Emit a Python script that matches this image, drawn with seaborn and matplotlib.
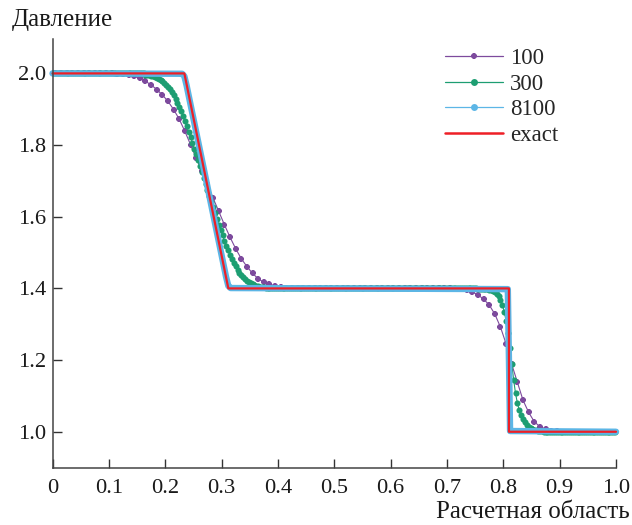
import numpy as np
import pandas as pd
import matplotlib
matplotlib.use("Agg")
import matplotlib.pyplot as plt
from matplotlib.lines import Line2D
import seaborn as sns

# ---------------------------------------------------------------------------
# Pressure profiles of the shock-tube problem on grids of 100, 300 and 8100
# cells, together with the exact solution.
# ---------------------------------------------------------------------------

# 100 cells
p100 = ([2.0] * 11
        + [1.9995, 1.9985, 1.996, 1.992, 1.986, 1.978, 1.968, 1.955, 1.940,
           1.922, 1.899, 1.872, 1.838, 1.801, 1.764, 1.727, 1.690, 1.652,
           1.615, 1.578, 1.543, 1.511, 1.483, 1.461, 1.442, 1.427, 1.417,
           1.411, 1.407, 1.404, 1.402, 1.401, 1.4005]
        + [1.4] * 27
        + [1.3995, 1.398, 1.395, 1.390, 1.382, 1.370, 1.354, 1.328, 1.292,
           1.245, 1.188, 1.138, 1.088, 1.054, 1.028, 1.014, 1.007, 1.003,
           1.001]
        + [1.0] * 10)

# 300 cells
p300 = ([2.0] * 49
        + [1.9967, 1.9960, 1.9950, 1.9938, 1.9923, 1.9905, 1.9883, 1.9857,
           1.9824, 1.9786, 1.9741, 1.9687, 1.9626, 1.9556, 1.9475, 1.9386,
           1.9288, 1.9177, 1.9061, 1.8937, 1.8802, 1.8665, 1.8521, 1.8368,
           1.8216, 1.8060, 1.7900, 1.7741, 1.7580, 1.7413, 1.7249, 1.7085,
           1.6915, 1.6751, 1.6587, 1.6420, 1.6259, 1.6098, 1.5936, 1.5781,
           1.5631, 1.5478, 1.5335, 1.5197, 1.5062, 1.4938, 1.4822, 1.4711,
           1.4614, 1.4524, 1.4443, 1.4373, 1.4312, 1.4257, 1.4213, 1.4175,
           1.4143, 1.4117, 1.4095, 1.4076, 1.4062, 1.4050, 1.4039, 1.4032,
           1.4025, 1.4020, 1.4015, 1.4010, 1.4008, 1.4006, 1.4004, 1.4002]
        + [1.4] * 104
        + [1.3998, 1.3996, 1.3994, 1.3991, 1.3987, 1.3982, 1.3975, 1.3965,
           1.3952, 1.3932, 1.3900, 1.3850, 1.3780, 1.3680, 1.3540, 1.3350,
           1.3090, 1.2750, 1.2330, 1.1880, 1.1450, 1.1070, 1.0800, 1.0600,
           1.0460, 1.0350, 1.0260, 1.0190, 1.0140, 1.0100, 1.0070, 1.0050,
           1.0035, 1.0024, 1.0016, 1.0010, 1.0006, 1.0003, 1.0001]
        + [1.0] * 36)

# 8100 cells (profile through its characteristic points)
x8100 = [0.0, 0.230, 0.234, 0.238, 0.308, 0.312, 0.316, 0.808, 0.810, 0.812, 1.0]
p8100 = [2.0, 1.999, 1.992, 1.966, 1.432, 1.407, 1.401, 1.398, 1.200, 1.002, 1.0]

# exact solution
x_exact = [0.0, 0.234, 0.312, 0.810, 0.810, 1.0]
p_exact = [2.0, 2.0, 1.4, 1.4, 1.0, 1.0]

labels = ["100", "300", "8100", "exact"]
colors = ["#7d4a9d", "#1d9e72", "#5cb6e6", "#ee1f26"]
xticks = [0, 0.1, 0.2, 0.3, 0.4, 0.5, 0.6, 0.7, 0.8, 0.9, 1.0]
xtick_labels = ["0", "0.1", "0.2", "0.3", "0.4", "0.5", "0.6", "0.7", "0.8", "0.9", "1.0"]
yticks = [1.0, 1.2, 1.4, 1.6, 1.8, 2.0]
ytick_labels = ["1.0", "1.2", "1.4", "1.6", "1.8", "2.0"]


def cell_centres(n):
    return (np.arange(n) + 0.5) / n


df100 = pd.DataFrame({"x": cell_centres(len(p100)), "p": p100})
df300 = pd.DataFrame({"x": cell_centres(len(p300)), "p": p300})
df8100 = pd.DataFrame({"x": x8100, "p": p8100})
dfex = pd.DataFrame({"x": x_exact, "p": p_exact})

sns.set_theme(style="white")
plt.rcParams["font.family"] = ["Liberation Serif", "DejaVu Serif"]

fig = plt.figure(figsize=(6.32, 5.25), dpi=100)
ax = fig.add_axes([0.0831, 0.1080, 0.8916, 0.8177])

common = dict(x="x", y="p", estimator=None, sort=False, legend=False,
              ax=ax, clip_on=False)
sns.lineplot(data=df100, color=colors[0], lw=0.8, marker="8", markersize=5.0,
             markeredgewidth=0, **common)
sns.lineplot(data=df300, color=colors[1], lw=0.8, marker="o", markersize=4.4,
             markeredgewidth=0, **common)
sns.lineplot(data=df8100, color=colors[2], lw=4.6, solid_capstyle="round",
             solid_joinstyle="round", **common)
sns.lineplot(data=dfex, color=colors[3], lw=1.6, **common)

ax.set_xlim(0, 1.0)
ax.set_ylim(0.898, 2.096)
ax.set_xticks(xticks)
ax.set_xticklabels(xtick_labels)
ax.set_yticks(yticks)
ax.set_yticklabels(ytick_labels)
ax.set_xlabel("")
ax.set_ylabel("")
ax.tick_params(axis="both", direction="in", length=6.5, width=1.0,
               bottom=True, left=True, color="#333333",
               labelcolor="#1a1a1a", labelsize=16.2)
ax.tick_params(axis="x", pad=7.5)
ax.tick_params(axis="y", pad=4.5)
for side in ("top", "right"):
    ax.spines[side].set_visible(False)
for side in ("left", "bottom"):
    ax.spines[side].set_color("#444444")
    ax.spines[side].set_linewidth(1.1)

fig.text(12 / 632, 1 - 20 / 525, "Давление", ha="left", va="center",
         fontsize=18, color="#1a1a1a")
fig.text(630 / 632, 1 - 512 / 525, "Расчетная область", ha="right",
         va="center", fontsize=18, color="#1a1a1a")

handles = [
    Line2D([], [], color=colors[0], lw=0.9, marker="8", markersize=5.0,
           markeredgewidth=0),
    Line2D([], [], color=colors[1], lw=0.9, marker="o", markersize=5,
           markeredgewidth=0),
    Line2D([], [], color=colors[2], lw=0.9, marker="o", markersize=5,
           markeredgewidth=0),
    Line2D([], [], color=colors[3], lw=1.8),
]
ax.legend(handles, labels, loc="upper left",
          bbox_to_anchor=(445 / 632, 1 - 48 / 525),
          bbox_transform=fig.transFigure, frameon=False, fontsize=16.5,
          handlelength=2.55, handletextpad=0.3, labelspacing=0.2,
          borderpad=0, borderaxespad=0)

fig.savefig("out.png", dpi=100)
